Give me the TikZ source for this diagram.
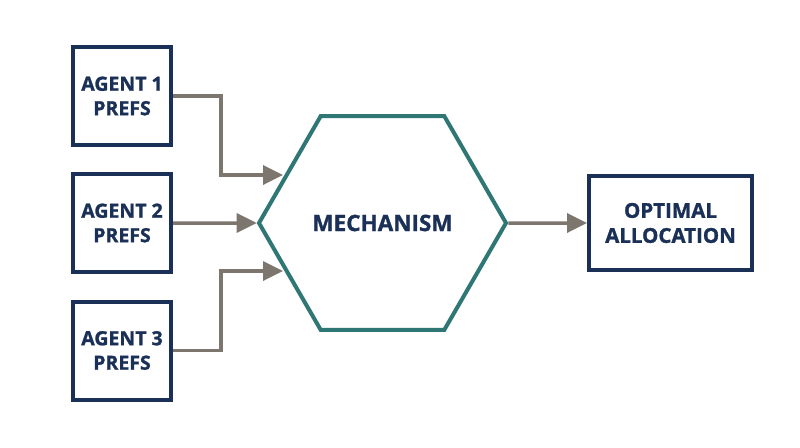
\documentclass[tikz,border=0pt]{standalone}
\usepackage{fontspec}
\setmainfont{Open Sans}[BoldFeatures={FakeBold=1.2}]
\usetikzlibrary{shapes.geometric,arrows.meta,calc}
\definecolor{navy}{HTML}{1B3057}
\definecolor{teal2}{HTML}{2E7775}
\definecolor{arrgray}{HTML}{7D766F}
\begin{document}
\begin{tikzpicture}[x=1pt,y=-1pt,
  box/.style={draw=navy,line width=4pt,fill=white,align=center,text=navy,
    font=\bfseries\fontsize{19.5}{24.5}\selectfont,inner sep=0pt},
  agentbox/.style={box,minimum width=98pt,minimum height=98pt},
  arr/.style={draw=arrgray,line width=3.5pt,-{Triangle[length=20pt,width=19pt]}}]
\useasboundingbox[fill=white] (0,0) rectangle (800,447);
\node[agentbox] (a1) at (122,96) {AGENT 1\\PREFS};
\node[agentbox] (a2) at (122,223) {AGENT 2\\PREFS};
\node[agentbox] (a3) at (122,350.5) {AGENT 3\\PREFS};
\node[box,minimum width=163pt,minimum height=94pt,font=\bfseries\fontsize{20.5}{25}\selectfont] (out) at (670.5,223) {OPTIMAL\\ALLOCATION};
\node[regular polygon,regular polygon sides=6,minimum size=247pt,draw=teal2,line width=4pt,
  text=navy,font=\bfseries\fontsize{22.5}{24}\selectfont,inner sep=0pt] (mech) at (382.5,223) {MECHANISM};
\coordinate (bend) at (221,0);
\coordinate (in1) at (283,175);
\coordinate (in3) at (283,271);
\draw[arr] (a1.east) -- (a1.east -| bend) |- (in1);
\draw[arr] (a2.east) -- (mech.west);
\draw[arr] (a3.east) -- (a3.east -| bend) |- (in3);
\draw[arr] (mech.east) -- (out.west);
\end{tikzpicture}
\end{document}
